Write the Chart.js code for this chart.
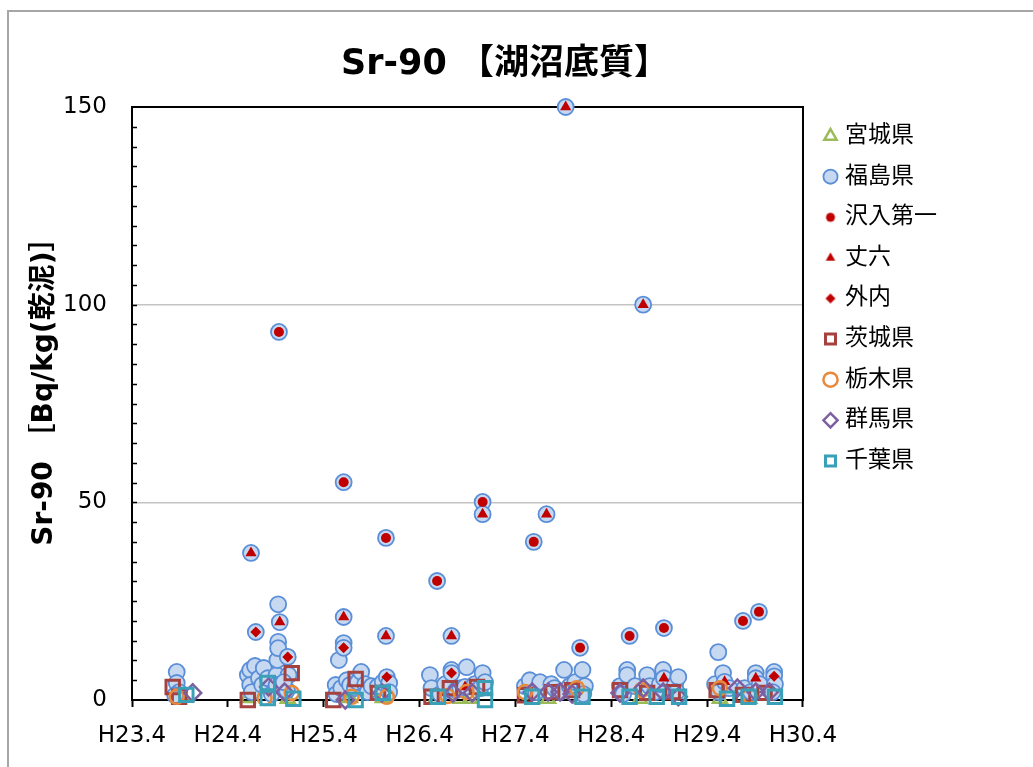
<!DOCTYPE html>
<html lang="ja">
<head>
<meta charset="utf-8">
<title>Sr-90 湖沼底質</title>
<script src="https://cdn.jsdelivr.net/npm/chart.js@4.4.0/dist/chart.umd.min.js"></script>
<style>
  html, body { margin: 0; padding: 0; background: #fff; overflow: hidden; }
  #frame { position: absolute; left: 7px; top: 10px; width: 1040px; height: 770px; border: 2px solid #a6a6a6; box-sizing: border-box; }
  #chart { position: absolute; left: 28px; top: 12px; }
</style>
</head>
<body>
<div id="frame"></div>
<canvas id="chart" width="954" height="755"></canvas>
<script>
// x = 月数 (H23.4 起点), y = Sr-90 [Bq/kg 乾泥]
const xLabels = ['H23.4', 'H24.4', 'H25.4', 'H26.4', 'H27.4', 'H28.4', 'H29.4', 'H30.4'];

const miyagi = [[6.4, 0.8], [14.5, 0.5], [19.5, 0.3], [27.3, 0.5], [31.4, 0.5], [38.0, 0.3], [41.1, 0.3],
  [42.3, 0.3], [52.1, 0.3], [56.3, 0.3], [63.6, 0.3], [73.6, 0.3], [77.3, 0.3]];

const fukushima = [
  [5.6, 7.1], [5.6, 4.3], [5.9, 2.0], [5.4, 1.2],
  [14.5, 6.3], [14.8, 7.6], [14.8, 3.8], [14.9, 37.2], [15.0, 2.0], [15.4, 8.6], [15.5, 17.2], [15.9, 5.5],
  [16.3, 3.8], [16.5, 8.1], [17.0, 5.5], [17.5, 1.5], [18.1, 6.3], [18.1, 3.8], [18.2, 10.1], [18.3, 24.2],
  [18.3, 14.7], [18.3, 13.1], [18.4, 93.1], [18.5, 19.7], [19.4, 2.5], [19.5, 10.9], [19.6, 6.3], [19.0, 4.5],
  [25.5, 3.8], [25.6, 1.5], [25.9, 10.1], [26.2, 3.0], [26.5, 55.1], [26.5, 21.0], [26.5, 14.4], [26.5, 13.2],
  [26.9, 5.0], [27.3, 3.8], [27.9, 3.0], [28.3, 4.5], [28.7, 7.1], [29.2, 4.0], [29.5, 2.0], [30.0, 3.5],
  [30.8, 3.5], [31.4, 4.5], [31.8, 41.0], [31.8, 16.2], [31.9, 5.8], [32.2, 4.3], [32.2, 2.0],
  [37.3, 6.3], [37.5, 3.0], [38.2, 30.1], [38.6, 1.5], [39.2, 4.0], [40.0, 16.2], [40.0, 7.6], [40.0, 6.8],
  [40.6, 2.5], [41.1, 3.0], [41.7, 3.3], [41.9, 8.3], [42.9, 4.0], [43.6, 3.0], [43.9, 50.1], [43.9, 47.0],
  [43.9, 6.8], [44.2, 4.5],
  [49.2, 3.5], [49.8, 5.0], [50.3, 40.0], [50.6, 2.0], [51.1, 4.5], [51.9, 47.0], [52.5, 4.0], [52.9, 3.0],
  [53.5, 2.0], [54.1, 7.6], [54.3, 150], [54.8, 3.5], [55.5, 4.5], [56.1, 13.2], [56.4, 7.6], [56.7, 3.5], [56.5, 1.5],
  [61.1, 3.5], [61.5, 1.5], [62.0, 7.6], [62.0, 6.3], [62.3, 16.2], [63.0, 3.5], [64.0, 100], [64.5, 6.3],
  [64.8, 3.5], [65.5, 2.0], [66.1, 4.0], [66.5, 7.6], [66.6, 18.2], [66.6, 5.5], [68.0, 4.0], [68.4, 5.8], [68.2, 2.0],
  [73.0, 4.0], [73.4, 12.1], [73.5, 2.0], [74.0, 6.8], [74.2, 4.6], [74.8, 3.0], [76.5, 20.0], [76.7, 3.0],
  [77.5, 2.0], [78.1, 6.8], [78.1, 5.5], [78.5, 22.3], [78.6, 4.0], [80.4, 7.1], [80.4, 6.0], [80.5, 4.0], [80.2, 2.0]
];

const sawairi = [[18.4, 93.1], [26.5, 55.1], [31.8, 41.0], [38.2, 30.1], [43.9, 50.1], [50.3, 40.0],
  [56.1, 13.2], [62.3, 16.2], [66.6, 18.2], [76.5, 20.0], [78.5, 22.3]];

const jouroku = [[14.9, 37.2], [18.5, 19.7], [26.5, 21.0], [31.8, 16.2], [40.0, 16.2], [41.7, 3.3], [43.9, 47.0],
  [51.9, 47.0], [54.3, 150], [64.0, 100], [66.6, 5.5], [74.2, 4.6], [78.1, 5.5]];

const sotouchi = [[15.5, 17.2], [19.5, 10.9], [26.5, 13.2], [31.9, 5.8], [40.0, 6.8], [80.4, 6.0]];

const ibaraki = [[5.1, 3.3], [5.9, 0.8], [14.5, 0], [20.0, 6.8], [25.2, 0], [28.0, 5.3], [30.8, 1.8], [37.5, 0.8],
  [39.8, 3.0], [43.2, 3.3], [49.2, 1.2], [52.6, 2.0], [55.1, 2.5], [61.1, 2.5], [64.5, 1.8], [67.7, 2.0],
  [73.2, 2.5], [76.5, 1.3], [79.2, 1.8]];

const tochigi = [[5.6, 0.8], [16.6, 0.5], [20.0, 1.8], [27.5, 0.8], [31.9, 0.8], [39.5, 1.0], [41.9, 2.0],
  [49.2, 2.0], [55.7, 3.0], [63.8, 2.5], [73.6, 3.0], [77.3, 1.0]];

const gunma = [[7.6, 1.8], [17.1, 3.3], [19.1, 2.0], [26.7, 0], [31.3, 1.8], [40.2, 1.8], [42.6, 1.8], [50.1, 2.0],
  [52.1, 2.0], [53.6, 2.0], [55.1, 1.5], [61.1, 1.8], [64.0, 3.0], [66.5, 2.0], [68.4, 0.8], [75.8, 3.0],
  [78.1, 2.0], [79.8, 2.0]];

const chiba = [[6.8, 1.3], [17.0, 4.3], [17.0, 0.5], [20.2, 0.3], [28.0, 0], [31.4, 1.8], [38.3, 0.8], [44.2, 3.0],
  [44.2, 0], [50.1, 0.8], [56.4, 0.8], [62.3, 0.8], [65.7, 0.8], [68.5, 0.8], [74.5, 0.3], [77.2, 0.8], [80.5, 0.8]];

const toXY = arr => arr.map(([x, y]) => ({ x, y }));
const clear = 'rgba(255,255,255,0)';
const red = '#c00000';

const series = [
  { label: '宮城県', data: miyagi, pointStyle: 'triangle', pointRadius: 8, borderColor: '#9bbb59', backgroundColor: clear, borderWidth: 2.5 },
  { label: '福島県', data: fukushima, pointStyle: 'circle', pointRadius: 8, borderColor: '#5a8fd8', backgroundColor: '#c6d9f1', borderWidth: 1.8 },
  { label: '沢入第一', data: sawairi, pointStyle: 'circle', pointRadius: 5, borderColor: red, backgroundColor: red, borderWidth: 0, legendRadius: 4.5 },
  { label: '丈六', data: jouroku, pointStyle: 'triangle', pointRadius: 6.5, borderColor: red, backgroundColor: red, borderWidth: 0, legendRadius: 5.5 },
  { label: '外内', data: sotouchi, pointStyle: 'rectRot', pointRadius: 5.5, borderColor: red, backgroundColor: red, borderWidth: 0, legendRadius: 5 },
  { label: '茨城県', data: ibaraki, pointStyle: 'rect', pointRadius: 9.5, borderColor: '#a5423f', backgroundColor: clear, borderWidth: 3 },
  { label: '栃木県', data: tochigi, pointStyle: 'circle', pointRadius: 7, borderColor: '#e8893c', backgroundColor: clear, borderWidth: 2.5 },
  { label: '群馬県', data: gunma, pointStyle: 'rectRot', pointRadius: 8.5, borderColor: '#7d5fa0', backgroundColor: clear, borderWidth: 2.5 },
  { label: '千葉県', data: chiba, pointStyle: 'rect', pointRadius: 9.5, borderColor: '#3aa0b8', backgroundColor: clear, borderWidth: 3 }
];

// 後の系列ほど上に描く
const datasets = series.map((s, i) => ({
  label: s.label,
  data: toXY(s.data),
  pointStyle: s.pointStyle,
  pointRadius: s.pointRadius,
  pointHoverRadius: s.pointRadius,
  pointBorderWidth: s.borderWidth,
  borderColor: s.borderColor,
  backgroundColor: s.backgroundColor,
  borderWidth: s.borderWidth,
  showLine: false,
  clip: false,
  order: series.length - 1 - i
}));

// 凡例用の小さいマーカー (赤の3地点)
function smallMark(s) {
  const c = document.createElement('canvas');
  c.width = c.height = 14;
  const g = c.getContext('2d');
  g.fillStyle = s.backgroundColor;
  Chart.helpers.drawPoint(g, { pointStyle: s.pointStyle, radius: s.legendRadius, borderWidth: 0, rotation: 0 }, 7, 7);
  return c;
}
const legendMarks = {};
series.filter(s => s.legendRadius).forEach(s => { legendMarks[s.label] = smallMark(s); });

// 縦軸の内向き補助目盛 (5 刻み)
const minorTicks = {
  id: 'minorTicks',
  beforeDatasetsDraw(chart) {
    const { ctx, chartArea } = chart;
    const y = chart.scales.y;
    ctx.save();
    ctx.strokeStyle = '#000';
    ctx.lineWidth = 1.5;
    ctx.beginPath();
    for (let v = 5; v < 150; v += 5) {
      const py = Math.round(y.getPixelForValue(v)) + 0.5;
      ctx.moveTo(chartArea.left, py);
      ctx.lineTo(chartArea.left + 5, py);
    }
    ctx.stroke();
    ctx.restore();
  }
};

Chart.defaults.font.family = "'DejaVu Sans', 'Noto Sans CJK JP', sans-serif";
Chart.defaults.color = '#000';

new Chart(document.getElementById('chart'), {
  type: 'scatter',
  data: { datasets },
  plugins: [minorTicks],
  options: {
    responsive: false,
    animation: false,
    devicePixelRatio: 1,
    events: [],
    layout: { padding: 0 },
    scales: {
      x: {
        type: 'linear',
        min: 0,
        max: 84,
        afterFit: s => { s.height = 67; },
        ticks: {
          stepSize: 12,
          padding: 15,
          font: { size: 23 },
          callback: v => xLabels[v / 12] ?? ''
        },
        grid: { drawOnChartArea: false, drawTicks: true, tickLength: 7, tickColor: '#000', tickWidth: 2 },
        border: { color: '#000', width: 2 }
      },
      xTop: {
        type: 'linear',
        position: 'top',
        min: 0,
        max: 84,
        afterFit: s => { s.height = 0; },
        ticks: { display: false },
        grid: { display: false },
        border: { color: '#000', width: 2 }
      },
      y: {
        min: 0,
        max: 150,
        afterFit: s => { s.width = 104; },
        ticks: { stepSize: 50, padding: 25, font: { size: 23 } },
        grid: {
          drawTicks: false,
          lineWidth: 1.5,
          color: c => (c.tick && c.tick.value > 0 && c.tick.value < 150) ? '#c4c4c4' : 'rgba(0,0,0,0)'
        },
        border: { color: '#000', width: 2 },
        title: {
          display: true,
          // 先頭の空白で少し上寄せ
          text: '　 Sr-90 ［Bq/kg(乾泥)］',
          font: { size: 28, weight: 'bold' },
          padding: { top: 0, bottom: 0 }
        }
      },
      yRight: {
        position: 'right',
        min: 0,
        max: 150,
        afterFit: s => { s.width = 7; },
        ticks: { display: false },
        grid: { display: false },
        border: { color: '#000', width: 2 }
      },
      // 凡例の外側の余白
      yPad: {
        position: 'right',
        weight: 2000,
        min: 0,
        max: 1,
        afterFit: s => { s.width = 35; },
        ticks: { display: false },
        grid: { display: false },
        border: { display: false }
      }
    },
    plugins: {
      title: {
        display: true,
        text: 'Sr-90 【湖沼底質】',
        font: { size: 35, weight: 'bold' },
        padding: { top: 32, bottom: 21 }
      },
      legend: {
        position: 'right',
        align: 'start',
        fullSize: false,
        maxWidth: 200,
        labels: {
          usePointStyle: true,
          boxWidth: 6,
          boxHeight: 10,
          padding: 17.6,
          font: { size: 23 },
          sort: (a, b) => a.datasetIndex - b.datasetIndex,
          generateLabels(chart) {
            const items = Chart.defaults.plugins.legend.labels.generateLabels(chart);
            items.forEach(it => {
              if (legendMarks[it.text]) it.pointStyle = legendMarks[it.text];
            });
            return items;
          }
        }
      },
      tooltip: { enabled: false }
    }
  }
});
</script>
</body>
</html>
